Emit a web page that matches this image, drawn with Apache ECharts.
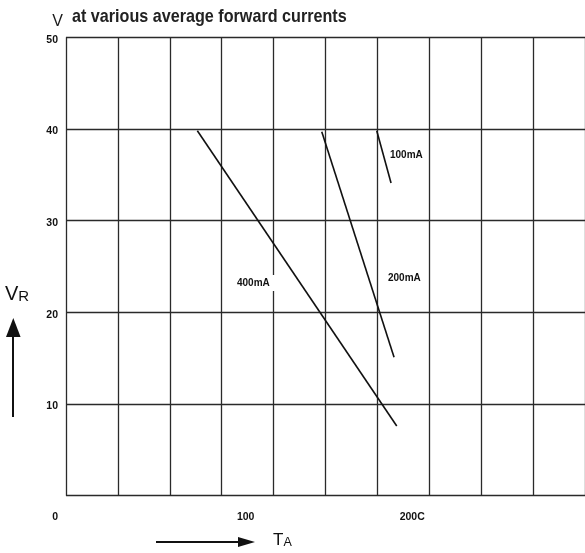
<!DOCTYPE html>
<html>
<head>
<meta charset="utf-8">
<script src="https://cdn.jsdelivr.net/npm/echarts@6/dist/echarts.min.js"></script>
<style>html,body{margin:0;padding:0;background:#fff}#c{width:585px;height:553px}</style>
</head>
<body>
<div id="c"></div>
<script>
// ---- data ----
const titleText = 'at various average forward currents';
const tempTicks = [0, 100, 200];               // T_A tick values (°C)
const tempTickLabels = ['0', '100', '200C'];   // T_A tick labels
const voltTicks = [10, 20, 30, 40, 50];        // V_R tick values (V)
const curveNames = ['400mA', '200mA', '100mA'];
const curve400T = [77.4, 189.1];
const curve400V = [39.8, 7.6];
const curve200T = [147.1, 187.6];
const curve200V = [39.7, 15.1];
const curve100T = [177.9, 185.9];
const curve100V = [39.8, 34.1];

const zip = (a, b) => a.map((v, i) => [v, b[i]]);

// ---- layout / style ----
const G = {left: 66, top: 37.3, width: 520, height: 458.4};      // drawn grid cells
const G2 = {left: 40, top: 37.3, width: 545, height: 458.4};     // temperature scale frame
const pxPerDeg = 1.785, zeroPx = 59.2;
const tMin = (G2.left - zeroPx) / pxPerDeg;
const tMax = tMin + G2.width / pxPerDeg;
const gridColor = '#2a2a2a';
const lineColor = '#111';
const fontFam = '"Liberation Sans", Arial, sans-serif';
// small per-label nudges of the printed tick labels
const tempLabelRich = {
  l0: {padding: [0, 8, 0, 0]},
  l1: {padding: [0, 0, 0, 16]},
  l2: {padding: [0, 8, 0, 0]}
};

const chart = echarts.init(document.getElementById('c'), null, {renderer: 'canvas'});
chart.setOption({
  animation: false,
  backgroundColor: '#fff',
  grid: [G, G2],
  xAxis: [
    { // grid cells
      gridIndex: 0, type: 'value', min: 0, max: 10, interval: 1,
      axisLine: {show: false}, axisTick: {show: false}, axisLabel: {show: false},
      splitLine: {show: true, lineStyle: {color: gridColor, width: 1.3}}
    },
    { // temperature scale
      gridIndex: 1, type: 'value', min: tMin, max: tMax, position: 'bottom',
      axisLine: {show: false}, axisTick: {show: false}, splitLine: {show: false},
      axisLabel: {
        customValues: tempTicks, margin: 16,
        fontFamily: fontFam, fontSize: 10.5, fontWeight: 'bold', color: '#111',
        formatter: v => {
          const i = tempTicks.indexOf(v);
          return i < 0 ? '' : '{l' + i + '|' + tempTickLabels[i] + '}';
        },
        rich: tempLabelRich
      }
    }
  ],
  yAxis: [
    {
      gridIndex: 0, type: 'value', min: 0, max: 50, interval: 10,
      name: 'V', nameLocation: 'end', nameGap: 8,
      nameTextStyle: {fontFamily: fontFam, fontSize: 16, color: '#1a1a1a', align: 'right', padding: [0, 3, 0, 0]},
      axisLine: {show: false}, axisTick: {show: false},
      splitLine: {show: true, lineStyle: {color: gridColor, width: 1.3}},
      axisLabel: {
        customValues: voltTicks, margin: 8,
        fontFamily: fontFam, fontSize: 10.5, fontWeight: 'bold', color: '#111',
        formatter: v => '{a|' + v + '}',
        rich: {a: {padding: [5, 0, 0, 0]}}
      }
    },
    {
      gridIndex: 1, type: 'value', min: 0, max: 50, show: false
    }
  ],
  series: [
    {name: curveNames[0], type: 'line', xAxisIndex: 1, yAxisIndex: 1, data: zip(curve400T, curve400V), symbol: 'none', silent: true, lineStyle: {color: lineColor, width: 1.6}},
    {name: curveNames[1], type: 'line', xAxisIndex: 1, yAxisIndex: 1, data: zip(curve200T, curve200V), symbol: 'none', silent: true, lineStyle: {color: lineColor, width: 1.6}},
    {name: curveNames[2], type: 'line', xAxisIndex: 1, yAxisIndex: 1, data: zip(curve100T, curve100V), symbol: 'none', silent: true, lineStyle: {color: lineColor, width: 1.6}}
  ],
  graphic: [
    // title (condensed)
    {type: 'text', x: 72, y: 7.5, scaleX: 0.85, z: 100, style: {text: titleText, font: 'bold 19px ' + fontFam, fill: '#222', verticalAlign: 'top'}},
    // curve labels
    {type: 'text', left: 235, top: 275, z: 100, style: {text: curveNames[0], font: 'bold 10px ' + fontFam, fill: '#111', backgroundColor: '#fff', padding: [3, 6, 3, 2]}},
    {type: 'text', left: 388, top: 273, z: 100, style: {text: curveNames[1], font: 'bold 10px ' + fontFam, fill: '#111'}},
    {type: 'text', left: 390, top: 150, z: 100, style: {text: curveNames[2], font: 'bold 10px ' + fontFam, fill: '#111'}},
    // V_R axis title with arrow
    {type: 'text', left: 5, top: 284, z: 100, style: {
      text: '{v|V}{r|R}',
      rich: {v: {fontSize: 20, fontFamily: fontFam, fill: '#111', verticalAlign: 'bottom', lineHeight: 20},
             r: {fontSize: 15, fontFamily: fontFam, fill: '#111', verticalAlign: 'bottom', lineHeight: 20}}
    }},
    {type: 'line', shape: {x1: 13, y1: 417, x2: 13, y2: 334}, style: {stroke: '#111', lineWidth: 2}},
    {type: 'polygon', shape: {points: [[6, 337], [13.3, 318], [20.6, 337]]}, style: {fill: '#111'}},
    // T_A axis title with arrow
    {type: 'text', left: 273, top: 532, z: 100, style: {
      text: '{t|T}{a|A}',
      rich: {t: {fontSize: 17, fontFamily: fontFam, fill: '#111', verticalAlign: 'bottom', lineHeight: 18},
             a: {fontSize: 12.5, fontFamily: fontFam, fill: '#111', verticalAlign: 'bottom', lineHeight: 18}}
    }},
    {type: 'line', shape: {x1: 156, y1: 542, x2: 240, y2: 542}, style: {stroke: '#111', lineWidth: 2}},
    {type: 'polygon', shape: {points: [[238, 537], [255, 542], [238, 547]]}, style: {fill: '#111'}}
  ]
});
</script>
</body>
</html>
